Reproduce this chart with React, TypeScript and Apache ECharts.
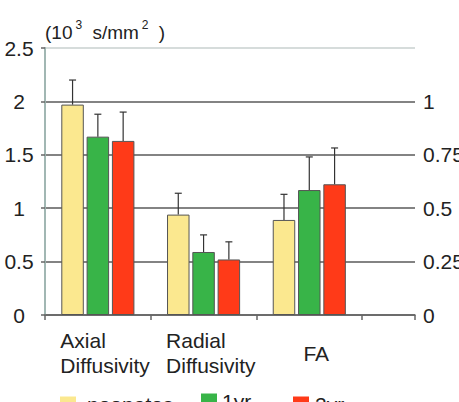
import React, { useEffect, useRef } from "react";
import * as echarts from "echarts";

// Diffusion metrics by age group (diffusivities on the left axis, FA on the right axis)
const CATEGORIES = ["Axial\nDiffusivity", "Radial\nDiffusivity", "FA"];
const ON_RIGHT_AXIS = [false, false, true];
const GROUP_NAMES = ["neonates", "1yr", "2yr"];

const NEONATES = [1.97, 0.94, 0.445];
const NEONATES_SD = [0.23, 0.2, 0.12];
const ONE_YEAR = [1.67, 0.59, 0.585];
const ONE_YEAR_SD = [0.21, 0.16, 0.155];
const TWO_YEAR = [1.63, 0.52, 0.612];
const TWO_YEAR_SD = [0.27, 0.165, 0.17];

const LEFT_MAX = 2.5;
const LEFT_STEP = 0.5;
const RIGHT_MAX = 1.25;
const RIGHT_STEP = 0.25;

const GROUP_VALUES = [NEONATES, ONE_YEAR, TWO_YEAR];
const GROUP_SD = [NEONATES_SD, ONE_YEAR_SD, TWO_YEAR_SD];
const GROUP_COLORS = ["#fbe88f", "#38b448", "#ff3a18"];

const FONT = "'Liberation Sans', Arial, sans-serif";
const TEXT = "#222";
const BAR_WIDTH = 22.5;
const BAR_GAP_PX = 2.8;

// right-axis values are drawn against the left axis scale
const RIGHT_TO_LEFT = LEFT_MAX / RIGHT_MAX;
const toLeft = (v: number, i: number) => (ON_RIGHT_AXIS[i] ? v * RIGHT_TO_LEFT : v);

export default function App() {
  const ref = useRef<HTMLDivElement>(null);

  useEffect(() => {
    if (!ref.current) return;
    const chart = echarts.init(ref.current, null, { renderer: "svg" });

    const barSeries = GROUP_NAMES.map((name, g) => ({
      type: "bar",
      name,
      xAxisIndex: 0,
      yAxisIndex: 0,
      barWidth: BAR_WIDTH,
      barGap: `${(BAR_GAP_PX / BAR_WIDTH) * 100}%`,
      itemStyle: { color: GROUP_COLORS[g], borderColor: "#555", borderWidth: 1 },
      data: GROUP_VALUES[g].map((v, i) => [i + 0.5, toLeft(v, i)]),
      z: 2,
    }));

    const errorSeries = GROUP_NAMES.map((name, g) => {
      const offset = (g - 1) * (BAR_WIDTH + BAR_GAP_PX);
      return {
        type: "custom",
        name: name + "-sd",
        xAxisIndex: 0,
        yAxisIndex: 0,
        z: 3,
        data: GROUP_VALUES[g].map((v, i) => [
          i + 0.5,
          toLeft(v, i),
          toLeft(v + GROUP_SD[g][i], i),
        ]),
        renderItem: (_params: any, api: any) => {
          const x = api.value(0);
          const base = api.coord([x, api.value(1)]);
          const top = api.coord([x, api.value(2)]);
          const cx = base[0] + offset;
          const stroke = { stroke: "#333", lineWidth: 1.2 };
          return {
            type: "group",
            children: [
              { type: "line", shape: { x1: cx, y1: base[1], x2: cx, y2: top[1] }, style: stroke },
              { type: "line", shape: { x1: cx - 3.5, y1: top[1], x2: cx + 3.5, y2: top[1] }, style: stroke },
            ],
          };
        },
      };
    });

    const legendLeft = [60, 201, 293];
    const legendTop = [394, 391, 394];
    const legendTextPad = [6, 0, 1];

    chart.setOption({
      animation: false,
      textStyle: { fontFamily: FONT, color: TEXT },
      title: {
        text: "(10{sup|3} s/mm{sup|2} )",
        left: 40,
        top: 14,
        textStyle: {
          fontFamily: FONT,
          fontSize: 19,
          fontWeight: "normal",
          color: TEXT,
          lineHeight: 27,
          rich: {
            sup: { fontFamily: FONT, fontSize: 12, color: TEXT, verticalAlign: "top", lineHeight: 14, padding: [0, 5, 0, 3] },
          },
        },
      },
      legend: GROUP_NAMES.map((name, g) => ({
        data: [name],
        left: legendLeft[g],
        top: legendTop[g],
        padding: 0,
        itemWidth: 16,
        itemHeight: 16,
        icon: "rect",
        selectedMode: false,
        itemStyle: { borderWidth: 0 },
        textStyle: { fontFamily: FONT, fontSize: 21, color: TEXT, padding: [0, 0, 0, legendTextPad[g]] },
      })),
      grid: { left: 45, right: 44, top: 48, bottom: 87, containLabel: false, outerBoundsMode: "none" },
      xAxis: [
        {
          type: "value",
          min: 0,
          max: CATEGORIES.length + 0.5,
          interval: 0.5,
          axisLine: { show: true, lineStyle: { color: "#666", width: 1.5 } },
          axisTick: { show: false },
          splitLine: { show: false },
          axisLabel: {
            margin: 38,
            verticalAlign: "middle",
            fontFamily: FONT,
            fontSize: 21,
            color: TEXT,
            formatter: (v: number) => {
              const i = Math.floor(v);
              if (Math.abs(v - i - 0.5) > 1e-6 || !CATEGORIES[i]) return "";
              const lines = CATEGORIES[i].split("\n");
              const style = lines.length > 1 ? "w" : "s";
              return lines.map((l) => `{${style}|${l}}`).join("\n");
            },
            rich: {
              w: { fontFamily: FONT, fontSize: 21, color: TEXT, width: 93, align: "left", lineHeight: 25, padding: [0, 0, 0, 18] },
              s: { fontFamily: FONT, fontSize: 21, color: TEXT, lineHeight: 25, padding: [0, 0, 0, 14] },
            },
          },
        },
        {
          type: "value",
          position: "bottom",
          min: 0,
          max: CATEGORIES.length + 0.5,
          interval: 1,
          axisLine: { show: false },
          axisTick: { show: true, length: 5, lineStyle: { color: "#666", width: 1.5 } },
          axisLabel: { show: false },
          splitLine: { show: false },
        },
      ],
      yAxis: [
        {
          type: "value",
          min: 0,
          max: LEFT_MAX,
          interval: LEFT_STEP,
          axisLine: { show: true, lineStyle: { color: "#666", width: 1.5 } },
          axisTick: { show: true, length: 4, lineStyle: { color: "#666", width: 1.5 } },
          axisLabel: { margin: 26, align: "center", fontFamily: FONT, fontSize: 21, color: TEXT },
          splitLine: {
            show: true,
            lineStyle: { color: ["#5a5a5a", "#5a5a5a", "#5a5a5a", "#5a5a5a", "#5a5a5a", "#c9d0cf"], width: 1.6 },
          },
        },
        {
          type: "value",
          position: "right",
          min: 0,
          max: RIGHT_MAX,
          interval: RIGHT_STEP,
          axisLine: { show: true, lineStyle: { color: "#a9c6c0", width: 1.5 } },
          axisTick: { show: false },
          axisLabel: { margin: 8, showMaxLabel: false, fontFamily: FONT, fontSize: 21, color: TEXT },
          splitLine: { show: false },
        },
      ],
      series: [...barSeries, ...errorSeries],
    });

    return () => chart.dispose();
  }, []);

  return (
    <div
      ref={ref}
      style={{ position: "fixed", left: 0, top: 0, width: 459, height: 402, background: "#fff" }}
    />
  );
}
